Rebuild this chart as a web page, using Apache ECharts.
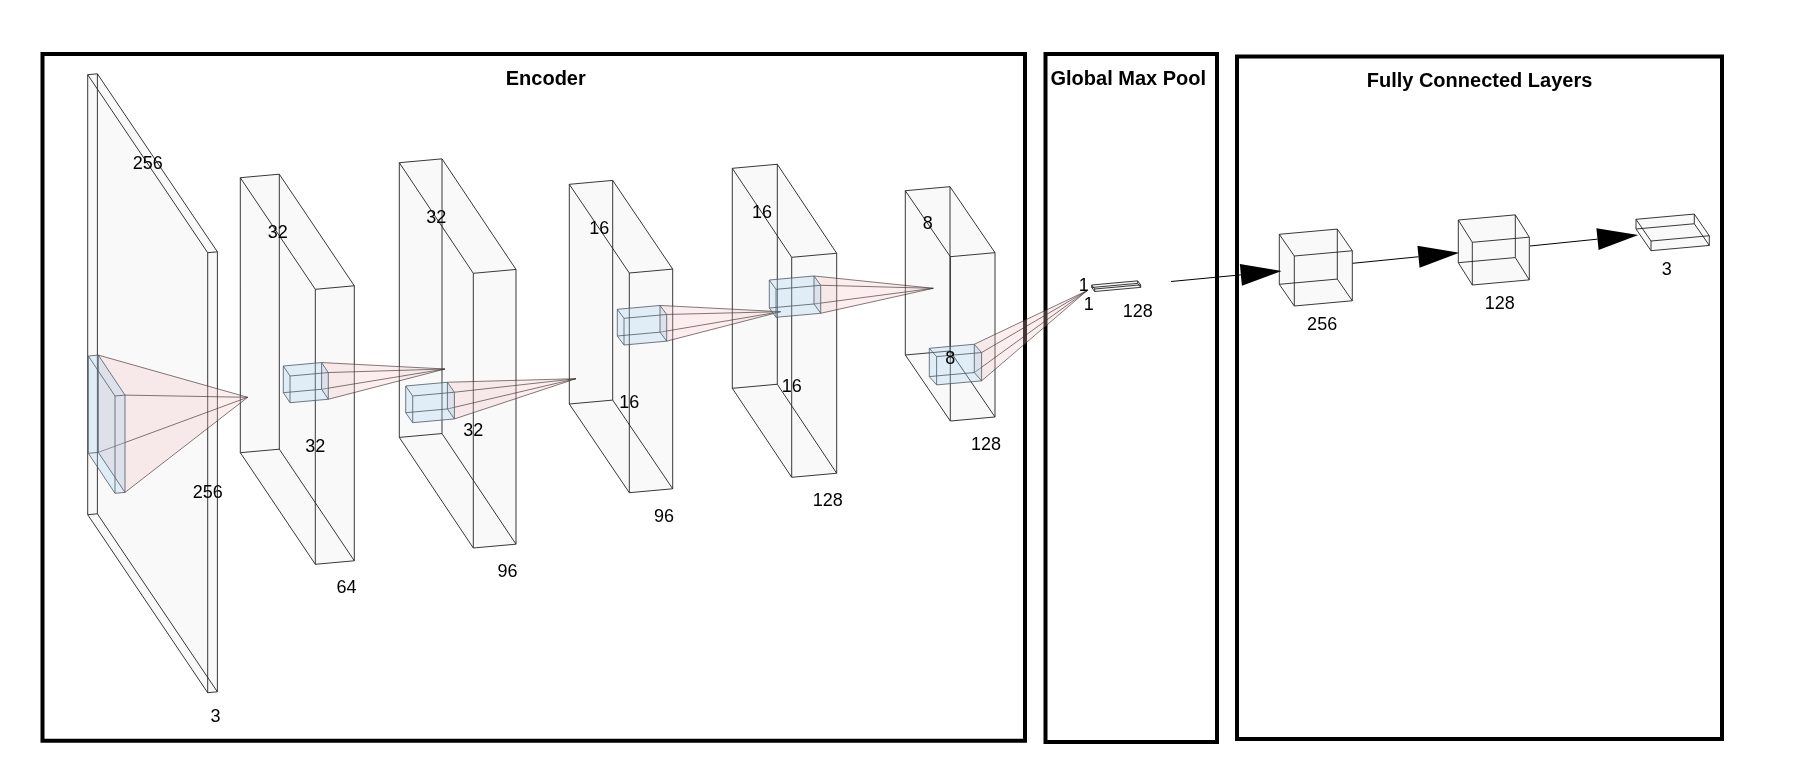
<!DOCTYPE html>
<html lang="en">
<head>
	<meta charset="UTF-8">
	<title>Encoder / Global Max Pool / Fully Connected Layers</title>
	<style>
		html, body { margin: 0; padding: 0; background: #fff; }
	</style>
</head>
<body>
	<div id="main" style="width: 1804px;height: 774px"></div>
	<script src="https://cdn.jsdelivr.net/npm/echarts@6/dist/echarts.min.js"></script>
	<script>
		// diagram units = pixels of the 1804 x 774 picture, y grows downward
		// box = [x, y, w, h, dx, dy]: front top-left corner, channel width, height, depth offset
		var layerDims = [['256', '256', '3'], ['32', '32', '64'], ['32', '32', '96'], ['16', '16', '96'], ['16', '16', '128'], ['8', '8', '128']];
		var layerBoxes = [
			[87.7, 74.7, 9.7, 440, 120, 178],
			[240.3, 177.7, 39, 275, 75, 111.6],
			[399.3, 162.7, 42.7, 274.7, 74, 110.6],
			[569.3, 184.3, 43.4, 219.7, 60, 88.7],
			[732.3, 168.3, 45, 220, 59.4, 89],
			[905.3, 190.7, 44.7, 164.3, 45, 66]
		];
		var kernelBoxes = [
			[88.3, 356, 10, 97.3, 26.7, 40],
			[283.3, 366, 38.3, 26.7, 6.7, 10],
			[405.7, 386, 41.7, 26.7, 7, 10],
			[617.3, 309.3, 42.7, 26.7, 6.7, 9],
			[769.3, 280, 44.7, 28, 6.7, 9.3],
			[929.3, 348.3, 45, 28.3, 7.3, 8.3]
		];
		var kernelApex = [[247.7, 397.3], [445, 369], [576, 378.7], [780.7, 311.7], [933.3, 288.3], [1087, 290.7]];

		var poolDims = ['1', '1', '128'];
		var poolBox = [1091.7, 285, 46, 2.5, 3, 4];

		var denseUnits = ['256', '128', '3'];
		var denseBoxes = [
			[1279.3, 234.3, 58, 50, 15, 21.7],
			[1458.3, 220, 57, 42.7, 14, 22.3],
			[1636, 219.3, 58.3, 9.7, 15, 21.7]
		];
		var denseArrows = [
			[1171, 281.5, 1281.7, 271],
			[1352.7, 263.3, 1459.3, 252.7],
			[1530, 246, 1638.3, 235]
		];

		var panelNames = ['Encoder', 'Global Max Pool', 'Fully Connected Layers'];
		var panelBounds = [
			[42.5, 54, 1025, 740.7],
			[1045.5, 54, 1217, 742],
			[1237, 56.5, 1722, 739]
		];

		var TILT = -0.09;   // slight perspective on the channel edges

		// label anchors taken from the box geometry
		var labelPoints = [], labelTexts = [];
		function addLabel(x, y, t) { labelPoints.push([x, y]); labelTexts.push(t); }
		layerBoxes.forEach(function (b, i) {
			addLabel(b[0] + b[4] / 2, b[1] + b[5] / 2, layerDims[i][0]);
			addLabel(b[0] + b[4], b[1] + b[5] + b[3] / 2 + 20, layerDims[i][1]);
			addLabel(b[0] + b[4] + 0.8 * b[2], b[1] + b[3] + b[5] + 24, layerDims[i][2]);
		});
		addLabel(poolBox[0] - 8, poolBox[1] + 1, poolDims[0]);
		addLabel(poolBox[0] - 3, poolBox[1] + 20, poolDims[1]);
		addLabel(poolBox[0] + poolBox[2], poolBox[1] + poolBox[3] + poolBox[5] + 21, poolDims[2]);
		denseBoxes.forEach(function (b, i) {
			// thin last box: its label sits further left
			var k = b[3] < 20 ? 0.27 : 0.48;
			addLabel(b[0] + b[4] + k * b[2], b[1] + b[3] + b[5] + 19, denseUnits[i]);
		});

		var pyramidData = kernelBoxes.map(function (k, i) {
			return k.concat(kernelApex[i]);
		});

		function hull(pts) {
			var p = pts.slice().sort(function (a, b) { return a[0] - b[0] || a[1] - b[1]; });
			function cross(o, a, b) { return (a[0] - o[0]) * (b[1] - o[1]) - (a[1] - o[1]) * (b[0] - o[0]); }
			var lower = [], upper = [];
			p.forEach(function (q) {
				while (lower.length >= 2 && cross(lower[lower.length - 2], lower[lower.length - 1], q) <= 0) lower.pop();
				lower.push(q);
			});
			for (var i = p.length - 1; i >= 0; i--) {
				while (upper.length >= 2 && cross(upper[upper.length - 2], upper[upper.length - 1], p[i]) <= 0) upper.pop();
				upper.push(p[i]);
			}
			upper.pop(); lower.pop();
			return lower.concat(upper);
		}

		function corners(x, y, w, h, dx, dy) {
			var t = TILT * w;
			var f = [[x, y], [x + w, y + t], [x + w, y + t + h], [x, y + h]];
			var b = f.map(function (c) { return [c[0] + dx, c[1] + dy]; });
			return { f: f, b: b };
		}

		function line(p, q, color, lw) {
			return {
				type: 'line',
				shape: { x1: p[0], y1: p[1], x2: q[0], y2: q[1] },
				style: { stroke: color, lineWidth: lw }
			};
		}

		function boxRenderer(fill, stroke, lw) {
			return function (params, api) {
				var c = corners(api.value(0), api.value(1), api.value(2), api.value(3), api.value(4), api.value(5));
				var f = c.f.map(function (q) { return api.coord(q); });
				var b = c.b.map(function (q) { return api.coord(q); });
				var children = [{
					type: 'polygon',
					shape: { points: hull(f.concat(b)) },
					style: { fill: fill }
				}];
				for (var i = 0; i < 4; i++) {
					children.push(line(f[i], f[(i + 1) % 4], stroke, lw));
					children.push(line(b[i], b[(i + 1) % 4], stroke, lw));
					children.push(line(f[i], b[i], stroke, lw));
				}
				return { type: 'group', children: children };
			};
		}

		function pyramidRenderer(params, api) {
			var c = corners(api.value(0), api.value(1), api.value(2), api.value(3), api.value(4), api.value(5));
			var base = [c.f[1], c.b[1], c.b[2], c.f[2]].map(function (q) { return api.coord(q); });
			var apex = api.coord([api.value(6), api.value(7)]);
			var children = [{
				type: 'polygon',
				shape: { points: hull(base.concat([apex])) },
				style: { fill: 'rgba(245, 195, 195, 0.28)' }
			}];
			base.forEach(function (p) {
				children.push(line(p, apex, 'rgba(60, 45, 45, 0.8)', 0.8));
			});
			return { type: 'group', children: children };
		}

		function arrowRenderer(params, api) {
			var p = api.coord([api.value(0), api.value(1)]);
			var q = api.coord([api.value(2), api.value(3)]);
			var len = Math.hypot(q[0] - p[0], q[1] - p[1]);
			var ux = (q[0] - p[0]) / len, uy = (q[1] - p[1]) / len;
			var head = 41, half = 11;
			var bx = q[0] - ux * head, by = q[1] - uy * head;
			return {
				type: 'group',
				children: [
					line(p, [bx, by], '#000', 1),
					{
						type: 'polygon',
						shape: { points: [q, [bx - uy * half, by + ux * half], [bx + uy * half, by - ux * half]] },
						style: { fill: '#000' }
					}
				]
			};
		}

		var titleShift = [12, -3, 0];

		function panelRenderer(params, api) {
			var a = api.coord([api.value(0), api.value(1)]);
			var b = api.coord([api.value(2), api.value(3)]);
			return {
				type: 'group',
				children: [{
					type: 'rect',
					shape: { x: a[0], y: a[1], width: b[0] - a[0], height: b[1] - a[1] },
					style: { fill: 'none', stroke: '#000', lineWidth: 4 }
				}, {
					type: 'text',
					x: (a[0] + b[0]) / 2 + titleShift[params.dataIndex],
					y: a[1] + 25,
					style: {
						text: panelNames[params.dataIndex],
						fontFamily: 'Liberation Sans, Arial, sans-serif',
						fontWeight: 'bold',
						fontSize: 20,
						fill: '#000',
						align: 'center',
						verticalAlign: 'middle'
					}
				}]
			};
		}

		function labelRenderer(params, api) {
			var p = api.coord([api.value(0), api.value(1)]);
			return {
				type: 'text',
				x: p[0],
				y: p[1],
				style: {
					text: labelTexts[params.dataIndex],
					fontFamily: 'Liberation Sans, Arial, sans-serif',
					fontSize: 18,
					fill: '#000',
					align: 'center',
					verticalAlign: 'middle'
				}
			};
		}

		var myChart = echarts.init(document.getElementById('main'));
		var option = {
			animation: false,
			grid: { left: 0, right: 0, top: 0, bottom: 0 },
			xAxis: { type: 'value', min: 0, max: 1804, show: false },
			yAxis: { type: 'value', min: 0, max: 774, inverse: true, show: false },
			series: [
				{ type: 'custom', z: 1, renderItem: panelRenderer, data: panelBounds },
				{ type: 'custom', z: 2, renderItem: boxRenderer('#f9f9f9', '#222', 0.9), data: layerBoxes },
				{ type: 'custom', z: 3, renderItem: pyramidRenderer, data: pyramidData },
				{ type: 'custom', z: 4, renderItem: boxRenderer('rgba(165, 210, 240, 0.3)', '#4d5a64', 0.8), data: kernelBoxes },
				{ type: 'custom', z: 2, renderItem: boxRenderer('#f9f9f9', '#222', 0.9), data: [poolBox] },
				{ type: 'custom', z: 2, renderItem: boxRenderer('#f9f9f9', '#222', 0.9), data: denseBoxes },
				{ type: 'custom', z: 5, renderItem: arrowRenderer, data: denseArrows },
				{ type: 'custom', z: 6, renderItem: labelRenderer, data: labelPoints }
			]
		};

		myChart.setOption(option);
	</script>
</body>
</html>
